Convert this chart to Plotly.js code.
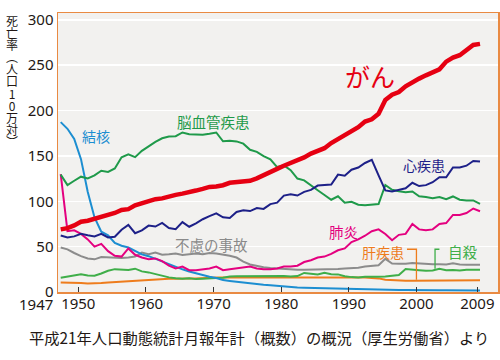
<!DOCTYPE html>
<html><head><meta charset="utf-8">
<script src="https://cdn.plot.ly/plotly-3.0.1.min.js"></script>
<style>html,body{margin:0;padding:0;background:#fff}#chart{width:500px;height:360px}</style>
</head><body><div id="chart"></div>
<script>
const years = [1947,1948,1949,1950,1951,1952,1953,1954,1955,1956,1957,1958,1959,1960,1961,1962,1963,1964,1965,1966,1967,1968,1969,1970,1971,1972,1973,1974,1975,1976,1977,1978,1979,1980,1981,1982,1983,1984,1985,1986,1987,1988,1989,1990,1991,1992,1993,1994,1995,1996,1997,1998,1999,2000,2001,2002,2003,2004,2005,2006,2007,2008,2009];

const cancer = [69.0,70.4,73.4,77.4,78.5,80.8,82.2,85.3,87.1,90.5,91.3,95.5,98.2,100.4,102.3,103.2,105.5,107.1,108.4,110.7,111.8,113.7,115.8,116.3,117.7,120.4,121.2,122.2,122.6,125.3,128.4,131.3,135.7,139.1,142.0,144.2,148.3,152.5,156.1,158.5,164.2,168.4,173.6,177.2,181.7,187.8,190.4,196.4,211.6,217.5,220.4,226.7,231.6,235.2,238.8,241.7,245.4,253.9,258.3,261.0,266.9,272.3,273.5];
const heart = [62.2,60.1,61.3,64.2,62.6,61.3,64.2,60.1,60.9,68.6,73.9,64.8,67.9,73.2,72.1,76.2,70.6,69.2,77.0,71.9,75.7,80.2,83.7,86.7,82.3,81.6,88.2,90.0,89.2,92.6,91.6,96.9,98.5,106.2,107.8,106.3,110.4,112.6,117.3,117.9,118.4,129.4,128.1,134.8,137.2,142.2,145.6,128.6,112.0,110.8,112.2,114.3,120.4,116.8,117.8,121.0,126.5,126.5,137.2,137.2,139.2,144.4,143.7];
const cerebro = [129.4,117.9,122.6,127.1,125.2,128.5,133.7,132.4,136.1,148.4,151.7,148.6,155.6,160.7,165.4,169.4,171.4,171.7,175.8,173.8,173.1,173.2,174.4,175.8,166.1,166.7,166.0,163.5,156.7,154.5,149.8,146.2,137.7,139.5,134.3,125.0,123.0,117.2,112.2,106.9,101.7,105.5,98.5,99.4,96.2,95.6,96.0,96.9,117.9,112.6,111.0,110.0,110.8,105.5,104.7,103.4,104.7,102.3,105.3,101.7,100.8,100.9,97.2];
const tuberculosis = [187.2,179.9,168.8,146.4,110.3,82.2,66.5,62.4,54,51,49,45,41.5,39.5,36.5,33.5,30.5,27.5,25,22.5,20.5,18.3,16.9,15.4,13.1,12.2,11.2,10.4,9.5,8.9,8.0,7.5,6.9,5.5,5.3,4.9,4.8,4.6,3.9,3.8,3.6,3.3,3.1,3.0,2.7,2.7,2.6,2.5,2.6,2.3,2.2,2.2,2.3,2.1,2.0,1.8,1.9,1.8,1.8,1.8,1.8,1.8,1.7];
const pneumonia = [130,67,68,64,58,50,53,45,40,39,48,41,38,36,37,34,29,26,28,24,24,25,26,28,24,25,26,27,28,26,25,25,26,28,28,29,33,35,38,39,42,46,48,55,58,62,67,69,64,57,63,64,75,69,68,69,75,76,85,85,87,92,89];
const accident = [49,47,43,39.5,37,36,38.5,38,37.4,37.5,38,39,43.5,41.7,43.5,41,41.5,42.5,40.9,42,42.5,41.5,43,42.5,41.5,40,38,33.5,30.3,28.5,27.2,26.5,26,25.1,25,24.5,24.5,24.6,24.6,24.5,24.4,25.3,26,26.2,26.8,28,29,29.5,36.5,31.4,31.1,31.1,32.0,31.4,31.4,30.7,30.7,30.3,31.6,30.3,30.1,30.3,30.0];
const suicide = [15.7,16.9,18.6,19.6,18.2,18.0,20.4,23.4,25.2,24.5,24.3,25.7,22.7,21.6,19.6,17.5,16.1,15.1,14.7,15.2,14.2,14.5,14.5,15.3,15.6,17.0,17.4,17.5,18.0,17.6,17.9,17.6,18.0,17.7,17.1,17.5,21.0,20.4,19.4,21.2,19.6,19.4,17.3,16.4,16.1,16.9,16.6,16.9,17.2,17.8,18.8,25.4,25.0,24.1,23.3,23.8,25.5,24.0,24.2,23.7,24.4,24.0,24.4];
const liver = [10.5,10.5,10.5,10,9.5,9.5,10,10.5,11,11.5,12,12.5,13,13.5,14,14,14.5,14.5,15,15,15,15.5,15.5,16,16,16,16.5,16.5,16.5,16.5,16.5,16.5,16.5,16.5,16.5,16.5,16.5,16.5,16.5,16.5,16.5,16.5,16.5,16,16,16,15.5,15,13.5,13,12.5,12.5,12.5,12.5,12.5,12.5,12.5,12.5,13,13,13,13,12.9];

const tickYears = [1950,1960,1970,1980,1990,2000,2009];
const yTicks = [0,50,100,150,200,250,300];
const yTitleChars = ['死','亡','率','︵','人','口','1','0','万','対','︶'];
const caption = '平成21年人口動態統計月報年計（概数）の概況（厚生労働省）より';

const X_SHIFT = 0.4; // annual values drawn slightly right of the year tick, as in the source
const CJK = '"Noto Sans CJK JP", "Noto Sans", sans-serif';

const series = [
  {name:'肝疾患', y:liver, color:'#ee7c1c', w:2},
  {name:'自殺', y:suicide, color:'#3fae49', w:2},
  {name:'不慮の事故', y:accident, color:'#8c8c8c', w:2},
  {name:'結核', y:tuberculosis, color:'#1c8ed1', w:2},
  {name:'肺炎', y:pneumonia, color:'#e4007f', w:2},
  {name:'脳血管疾患', y:cerebro, color:'#1f9a4a', w:2},
  {name:'心疾患', y:heart, color:'#1d2088', w:2},
  {name:'がん', y:cancer, color:'#e60012', w:4.5}
];

const traces = series.map(s => ({
  type:'scatter', mode:'lines', name:s.name,
  x: years.map(v => v + X_SHIFT), y: s.y,
  line:{color:s.color, width:s.w},
  hoverinfo:'skip'
}));

const labels = [
  {t:'結核', x:1952.55, y:172, c:'#1c8ed1', s:14},
  {t:'脳血管疾患', x:1970.0, y:187.4, c:'#1f9a4a', s:14.5},
  {t:'がん', x:1993.2, y:238, c:'#e60012', s:25},
  {t:'心疾患', x:2001.15, y:140.5, c:'#1d2088', s:14},
  {t:'肺炎', x:1989.15, y:67.2, c:'#e4007f', s:14.5},
  {t:'不慮の事故', x:1969.7, y:52.9, c:'#8a8a8a', s:14.5},
  {t:'肝疾患', x:1995.1, y:44.1, c:'#ee7c1c', s:14},
  {t:'自殺', x:2006.85, y:44.1, c:'#3fae49', s:14.5}
];

const annotations = labels.map(l => ({
  text:l.t, x:l.x, y:l.y, xref:'x', yref:'y', showarrow:false,
  xanchor:'center', yanchor:'middle', font:{family:CJK, size:l.s, color:l.c}
}));

// vertical (upright, stacked) axis title; plot area: left 58, right 498, top 13, bottom 292 (px)
annotations.push({
  text: yTitleChars.map(c => '<span style="font-size:12px">' + c + '</span>').join('<br>'),
  xref:'paper', yref:'paper', x:(12-58)/440, y:(292-81)/279,
  showarrow:false, xanchor:'center', yanchor:'middle', align:'center',
  font:{family:CJK, size:9.3, color:'#231815'}
});
annotations.push({
  text:'1947', xref:'x', yref:'paper', x:1947, y:(292-304)/279, xanchor:'right', yanchor:'middle',
  xshift:-3, showarrow:false, font:{family:'"Noto Sans", sans-serif', size:15, color:'#231815'}
});
annotations.push({
  text:caption, xref:'paper', yref:'paper', x:(259-58)/440, y:(292-337)/279,
  xanchor:'center', yanchor:'middle', showarrow:false,
  font:{family:CJK, size:15.3, color:'#231815'}
});

const shapes = [
  {type:'path', xref:'x', yref:'y', path:'M1998.6,47.1 L2000.0,47.1 L2000.0,13.5', line:{color:'#ee7c1c', width:1.3}},
  {type:'path', xref:'x', yref:'y', path:'M2003.4,47.1 L2002.75,47.1 L2002.75,25.5', line:{color:'#3fae49', width:1.3}}
];

const layout = {
  width:500, height:360,
  margin:{l:58, r:2, t:13, b:68, pad:0},
  paper_bgcolor:'#ffffff', plot_bgcolor:'#f2f1ef',
  showlegend:false,
  font:{family:'"Noto Sans", sans-serif', color:'#231815'},
  xaxis:{
    range:[1947, 2012.06], tickmode:'array', tickvals:tickYears, ticktext:tickYears.map(String),
    ticks:'inside', ticklen:5, tickwidth:1, tickcolor:'#333333', ticklabelstandoff:-3,
    showgrid:false, zeroline:false,
    showline:true, mirror:true, linecolor:'#e98a42', linewidth:1.5,
    tickfont:{family:'"Noto Sans", sans-serif', size:15, color:'#231815'}
  },
  yaxis:{
    range:[0, 307.5], tickmode:'array', tickvals:yTicks, ticktext:yTicks.map(String),
    ticks:'', showgrid:true, gridcolor:'#ffffff', gridwidth:1.5, zeroline:false,
    showline:true, mirror:true, linecolor:'#e98a42', linewidth:1.5,
    tickfont:{family:'"Noto Sans", sans-serif', size:15, color:'#231815'}
  },
  annotations:annotations,
  shapes:shapes
};

Plotly.newPlot('chart', traces, layout, {staticPlot:true, displayModeBar:false});
</script>
</body></html>
